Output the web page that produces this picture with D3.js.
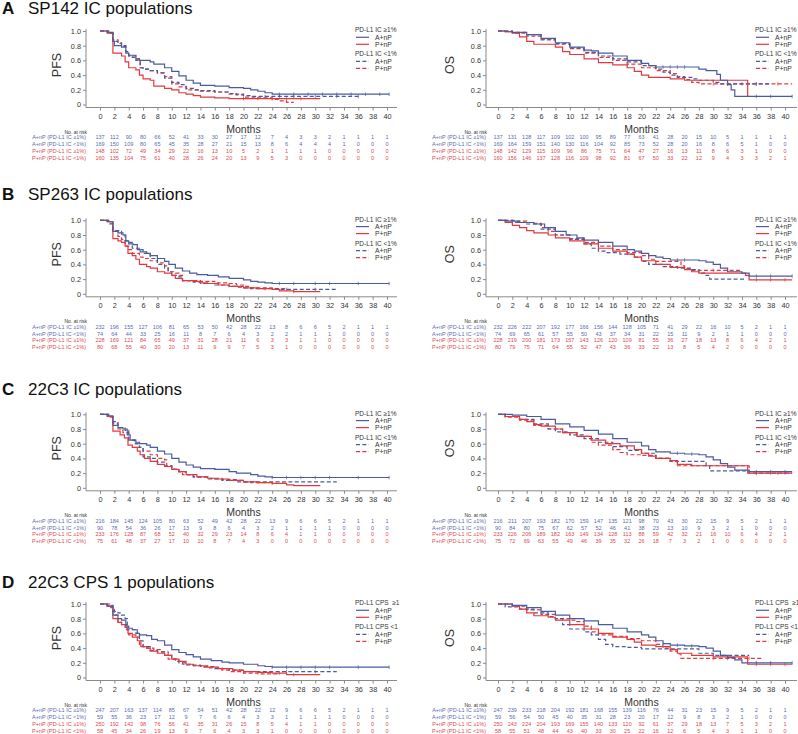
<!DOCTYPE html>
<html><head><meta charset="utf-8">
<script src="https://cdn.jsdelivr.net/npm/d3@7"></script>
<style>
body{margin:0;background:#fff}
svg{display:block}
text{font-family:"Liberation Sans",Arial,Helvetica,sans-serif}
</style>
</head><body>
<svg id="chart" width="798" height="734"></svg>
<script>
// ---------- tick labels / categories ----------
const monthTicks = [0,2,4,6,8,10,12,14,16,18,20,22,24,26,28,30,32,34,36,38,40];
const survTicks = [0,0.2,0.4,0.6,0.8,1.0];
const rowLabels = ['A+nP (PD-L1 IC \u22651%)','A+nP (PD-L1 IC <1%)','P+nP (PD-L1 IC \u22651%)','P+nP (PD-L1 IC <1%)'];
const armNames = ['A+nP','P+nP'];
const panelLetters = ['A','B','C','D'];
const panelTitles = ['SP142 IC populations','SP263 IC populations','22C3 IC populations','22C3 CPS 1 populations'];
const legendHi = ['PD-L1 IC \u22651%','PD-L1 IC \u22651%','PD-L1 IC \u22651%','PD-L1 CPS  \u22651'];
const legendLo = ['PD-L1 IC <1%','PD-L1 IC <1%','PD-L1 IC <1%','PD-L1 CPS <1'];

// ---------- A: SP142 ----------
const aPfsAhi = [[0,1],[1,0.98],[1.8,0.86],[2,0.80],[3,0.78],[3.6,0.70],[4,0.67],[5,0.62],[5.5,0.60],[7,0.58],[7.5,0.55],[9,0.50],[10,0.45],[11,0.39],[12,0.33],[13,0.29],[14,0.26],[16,0.25],[18,0.23],[20,0.22],[21,0.20],[22,0.18],[23,0.16],[24,0.14],[40.3,0.14]];
const aPfsAlo = [[0,1],[1.2,0.97],[1.8,0.86],[2.5,0.84],[3,0.80],[3.6,0.72],[4,0.66],[4.5,0.64],[5,0.60],[5.6,0.50],[6,0.48],[7,0.46],[8,0.43],[9,0.36],[10,0.30],[11,0.27],[12,0.22],[13,0.20],[14,0.19],[16,0.17],[18,0.15],[19,0.13],[20,0.12],[21,0.11],[36,0.11]];
const aPfsPhi = [[0,1],[1,0.97],[1.8,0.70],[3,0.66],[3.5,0.58],[4,0.50],[5,0.47],[5.5,0.40],[6,0.35],[7,0.33],[7.5,0.25],[9,0.22],[10,0.20],[11,0.16],[12,0.14],[13,0.12],[14,0.10],[16,0.09],[18,0.08],[30.7,0.08]];
const aPfsPlo = [[0,1],[1.2,0.97],[1.8,0.88],[2.5,0.83],[3,0.79],[3.6,0.72],[4,0.66],[5,0.62],[5.6,0.50],[6,0.48],[7,0.46],[8,0.43],[9,0.38],[10,0.28],[11,0.24],[12,0.20],[14,0.18],[16,0.17],[18,0.14],[20,0.10],[22,0.09],[24,0.07],[25,0.05],[26,0.03],[27,0.03]];
const aOsAhi = [[0,1],[1,0.99],[2,0.98],[4,0.95],[6,0.90],[8,0.84],[10,0.78],[12,0.74],[13,0.73],[14,0.70],[16,0.66],[18,0.60],[20,0.56],[21,0.53],[22,0.51],[27,0.51],[28,0.48],[29,0.46],[30.5,0.41],[31,0.33],[32,0.27],[32.5,0.20],[33,0.11],[41,0.11]];
const aOsAlo = [[0,1],[2,0.98],[4,0.95],[6,0.89],[8,0.83],[10,0.77],[12,0.71],[14,0.66],[16,0.62],[18,0.58],[20,0.53],[22,0.48],[23,0.44],[24,0.40],[25,0.37],[27,0.35],[28,0.33],[30,0.30],[31,0.28],[38,0.28]];
const aOsPhi = [[0,1],[1,0.99],[2,0.97],[3,0.92],[4,0.86],[5,0.82],[7,0.82],[8,0.78],[9,0.72],[10,0.68],[12,0.62],[14,0.57],[16,0.54],[18,0.50],[19,0.45],[20,0.40],[21,0.37],[23,0.37],[24,0.35],[26,0.33],[34.8,0.11],[35,0.11]];
const aOsPlo = [[0,1],[2,0.97],[4,0.93],[6,0.88],[8,0.82],[10,0.76],[12,0.70],[14,0.64],[16,0.60],[18,0.55],[20,0.50],[22,0.46],[24,0.42],[25,0.38],[26,0.34],[27,0.30],[28,0.28],[41,0.28]];
const aPfsRisk = [[137,112,90,80,66,52,41,33,30,27,17,12,7,4,3,3,2,1,1,1,1],[169,150,109,80,65,45,35,28,27,21,15,13,8,6,4,4,4,1,0,0,0],[148,102,72,49,34,29,22,16,13,10,5,2,1,1,1,1,0,0,0,0,0],[160,135,104,75,61,40,28,26,24,20,13,9,5,3,0,0,0,0,0,0,0]];
const aOsRisk = [[137,131,128,117,109,102,100,95,89,77,63,41,28,20,15,10,5,1,1,1,1],[169,164,159,151,140,130,116,104,92,85,73,52,28,20,16,8,6,5,1,0,0],[148,142,129,115,109,96,86,75,71,64,47,27,16,13,11,8,6,3,1,0,0],[160,156,146,137,128,116,109,98,92,81,67,50,33,22,12,9,4,3,3,2,1]];

// ---------- B: SP263 ----------
const bPfsAhi = [[0,1],[1,0.98],[1.8,0.85],[2.5,0.83],[3.2,0.80],[3.6,0.72],[4,0.68],[4.6,0.67],[5.2,0.60],[5.6,0.57],[6.5,0.55],[7,0.52],[8,0.48],[9,0.44],[9.6,0.40],[10.5,0.35],[11.5,0.31],[12.5,0.28],[13.5,0.26],[15,0.25],[16.5,0.23],[18,0.21],[20,0.19],[21,0.17],[22,0.16],[23,0.15],[24,0.14],[40.3,0.14]];
const bPfsAlo = [[0,1],[1.2,0.95],[1.8,0.86],[3,0.80],[3.5,0.72],[4,0.70],[4.5,0.62],[5.5,0.60],[6,0.55],[7,0.48],[8,0.40],[9,0.35],[9.5,0.30],[10,0.25],[11,0.23],[11.5,0.18],[13,0.16],[14,0.14],[16,0.12],[18,0.10],[19,0.09],[20,0.08],[21,0.07],[25,0.06],[33,0.06]];
const bPfsPhi = [[0,1],[1,0.98],[1.8,0.75],[2.5,0.72],[3,0.70],[3.5,0.65],[3.9,0.55],[4.5,0.52],[5,0.47],[5.5,0.40],[6.5,0.37],[7,0.35],[8,0.30],[9,0.28],[10,0.25],[10.5,0.21],[11.5,0.18],[13,0.17],[14,0.15],[15,0.14],[16.5,0.12],[18,0.10],[20,0.08],[22,0.07],[24,0.06],[25,0.04],[27,0.03],[30.7,0.03]];
const bPfsPlo = [[0,1],[1.2,0.96],[1.8,0.86],[2.5,0.78],[3,0.74],[3.5,0.65],[4,0.60],[4.5,0.55],[5.5,0.50],[6,0.48],[7,0.45],[8,0.42],[9,0.38],[9.5,0.30],[10.5,0.28],[11,0.25],[11.5,0.18],[14,0.17],[16,0.15],[18,0.14],[19,0.12],[20,0.10],[21,0.08],[24,0.07],[26,0.07]];
const bOsAhi = [[0,1],[1,0.99],[3,0.97],[5,0.95],[6.5,0.90],[8,0.85],[9.5,0.80],[11,0.76],[12,0.73],[14,0.70],[16,0.65],[18,0.60],[19,0.58],[20,0.55],[21,0.52],[22,0.50],[23,0.48],[24,0.46],[27,0.46],[28,0.45],[29,0.43],[30,0.40],[31,0.35],[32,0.30],[34,0.28],[35,0.24],[41,0.24]];
const bOsAlo = [[0,1],[2,0.97],[4,0.95],[6,0.88],[8,0.80],[10,0.74],[12,0.68],[13,0.62],[14,0.58],[15,0.56],[17,0.54],[19,0.50],[20,0.44],[21,0.40],[23,0.37],[25,0.35],[27,0.33],[28,0.28],[29,0.25],[29.5,0.20],[34.5,0.20]];
const bOsPhi = [[0,1],[1,0.97],[2,0.93],[3,0.90],[4,0.86],[5,0.83],[7,0.80],[8,0.76],[10,0.72],[12,0.68],[14,0.62],[16,0.58],[18,0.54],[19,0.50],[20,0.45],[22,0.40],[24,0.36],[26,0.33],[27,0.30],[28,0.28],[34.5,0.25],[35,0.19],[41,0.19]];
const bOsPlo = [[0,1],[2.5,0.99],[4,0.97],[5,0.96],[6,0.90],[7,0.85],[8,0.80],[10,0.75],[12,0.70],[14,0.65],[16,0.60],[18,0.56],[20,0.52],[21,0.47],[22,0.44],[25,0.44],[25.5,0.38],[26,0.34],[27,0.32],[34,0.32]];
const bPfsRisk = [[232,196,155,127,106,81,65,53,50,42,28,22,13,8,6,6,5,2,1,1,1],[74,64,44,33,25,16,11,8,7,6,4,3,2,2,1,1,1,0,0,0,0],[228,169,121,84,65,49,37,31,28,21,11,6,3,3,1,1,0,0,0,0,0],[80,68,55,40,30,20,13,11,9,9,7,5,3,1,0,0,0,0,0,0,0]];
const bOsRisk = [[232,226,222,207,192,177,166,156,144,128,105,71,41,29,22,16,10,5,2,1,1],[74,69,65,61,57,55,50,43,37,34,31,22,15,11,9,2,1,1,0,0,0],[228,219,200,181,173,157,143,126,120,109,81,55,36,27,18,13,8,6,4,2,1],[80,79,75,71,64,55,52,47,43,36,33,22,13,8,5,4,2,0,0,0,0]];

// ---------- C: 22C3 IC ----------
const cPfsAhi = [[0,1],[1,0.98],[1.8,0.85],[2.5,0.82],[3.2,0.80],[3.8,0.72],[4.2,0.65],[5,0.62],[5.5,0.60],[6.5,0.58],[7,0.55],[8,0.50],[9,0.46],[10,0.40],[11,0.35],[12,0.31],[13,0.28],[14,0.26],[16,0.25],[18,0.22],[19,0.20],[21,0.18],[22,0.16],[23,0.15],[24,0.14],[40.3,0.14]];
const cPfsAlo = [[0,1],[1.2,0.97],[1.8,0.90],[2.5,0.82],[3.5,0.78],[4,0.65],[5,0.60],[5.5,0.55],[6,0.42],[7,0.40],[8,0.35],[9,0.30],[10,0.25],[11,0.22],[12,0.18],[13,0.15],[15,0.12],[17,0.10],[19,0.08],[33,0.08]];
const cPfsPhi = [[0,1],[1,0.97],[1.8,0.77],[2.8,0.72],[3.4,0.68],[3.9,0.58],[4.5,0.55],[5.2,0.50],[5.6,0.45],[6.2,0.40],[7,0.36],[8,0.32],[9,0.29],[10,0.25],[11,0.22],[12,0.18],[13.5,0.15],[15,0.13],[16,0.12],[18,0.10],[20,0.08],[22,0.07],[24,0.06],[26,0.04],[27,0.03],[30.7,0.03]];
const cPfsPlo = [[0,1],[1.2,0.96],[1.8,0.88],[2.5,0.80],[3.2,0.75],[4,0.65],[4.8,0.60],[5.3,0.55],[6,0.50],[7,0.45],[8,0.40],[9,0.38],[9.3,0.30],[10,0.25],[11,0.22],[11.5,0.18],[13,0.15],[15,0.13],[17,0.11],[19,0.10],[20,0.08],[21,0.07],[23.5,0.07]];
const cOsAhi = [[0,1],[2,0.99],[4,0.97],[6,0.93],[8,0.87],[10,0.83],[12,0.78],[14,0.73],[16,0.67],[18,0.62],[20,0.57],[21,0.52],[22,0.49],[24,0.47],[26,0.46],[28,0.45],[29,0.42],[30,0.38],[31,0.33],[32,0.28],[33,0.24],[35,0.22],[41,0.22]];
const cOsAlo = [[0,1],[1,0.97],[3,0.93],[5,0.87],[7,0.80],[8,0.76],[10,0.72],[12,0.67],[14,0.62],[16,0.56],[18,0.51],[20,0.47],[22,0.40],[24,0.36],[29,0.30],[29.5,0.23],[35,0.23]];
const cOsPhi = [[0,1],[1,0.97],[3,0.93],[4,0.90],[5,0.86],[6,0.84],[8,0.80],[9,0.75],[11,0.70],[13,0.65],[15,0.60],[17,0.57],[19,0.52],[20,0.47],[21,0.43],[22,0.40],[24,0.37],[25,0.32],[27,0.30],[34.8,0.20],[41,0.20]];
const cOsPlo = [[0,1],[1,0.96],[3,0.92],[5,0.85],[7,0.80],[9,0.75],[11,0.70],[13,0.62],[14,0.58],[16,0.52],[17,0.48],[18,0.45],[20,0.44],[22,0.40],[24,0.36],[25,0.30],[35,0.20],[41,0.20]];
const cPfsRisk = [[216,184,145,124,105,80,63,52,49,42,28,22,13,9,6,6,5,2,1,1,1],[90,78,54,36,26,17,13,9,8,6,4,3,2,1,1,1,1,0,0,0,0],[233,176,128,87,68,52,40,32,29,23,14,8,6,4,1,1,0,0,0,0,0],[75,61,48,37,27,17,10,10,8,7,4,3,0,0,0,0,0,0,0,0,0]];
const cOsRisk = [[216,211,207,193,182,170,159,147,135,121,98,70,43,30,22,15,9,5,2,1,1],[90,84,80,75,67,62,57,52,46,41,38,23,13,10,9,3,2,1,0,0,0],[233,226,206,189,182,163,149,134,128,113,88,59,42,32,21,16,10,6,4,2,1],[75,72,69,63,55,49,46,39,35,32,26,18,7,3,2,1,0,0,0,0,0]];

// ---------- D: 22C3 CPS ----------
const dPfsAhi = [[0,1],[1,0.97],[1.8,0.85],[2.5,0.80],[3,0.78],[3.6,0.70],[4,0.67],[4.5,0.65],[5.2,0.60],[5.5,0.58],[6.5,0.57],[7.2,0.52],[8,0.50],[9,0.44],[10,0.38],[11,0.34],[12,0.31],[13,0.28],[14,0.25],[15.5,0.23],[17,0.21],[18,0.20],[20,0.18],[22,0.16],[23,0.15],[24,0.14],[40.3,0.14]];
const dPfsAlo = [[0,1],[1,0.98],[1.8,0.90],[2.5,0.88],[3,0.85],[3.5,0.80],[3.8,0.65],[5,0.60],[5.5,0.50],[6,0.42],[7,0.37],[8,0.35],[9,0.30],[10,0.25],[11,0.20],[12,0.17],[14,0.15],[16,0.12],[18,0.10],[20,0.08],[33,0.08]];
const dPfsPhi = [[0,1],[1,0.97],[1.8,0.80],[2.5,0.75],[3,0.72],[3.5,0.68],[3.9,0.60],[4.5,0.55],[5.2,0.50],[5.7,0.42],[6.5,0.40],[7,0.36],[8,0.33],[9,0.30],[10,0.25],[11,0.22],[12,0.18],[13,0.16],[14.5,0.14],[16.5,0.12],[18.5,0.10],[20,0.08],[22,0.07],[24,0.06],[26,0.04],[30.7,0.04]];
const dPfsPlo = [[0,1],[1.5,0.95],[2,0.85],[2.5,0.75],[3,0.72],[3.7,0.65],[4,0.58],[5,0.55],[5.5,0.45],[6,0.42],[6.5,0.40],[7.5,0.38],[8.5,0.35],[9.5,0.25],[10.5,0.22],[11.5,0.18],[13,0.16],[15,0.13],[17,0.10],[18,0.08],[20,0.06],[22,0.05],[25,0.05]];
const dOsAhi = [[0,1],[2,0.98],[4,0.95],[6,0.90],[8,0.85],[10,0.80],[12,0.77],[14,0.72],[16,0.67],[18,0.62],[20,0.58],[21,0.55],[22,0.50],[23,0.46],[24,0.44],[26,0.43],[28,0.42],[29,0.40],[30,0.36],[31,0.30],[32,0.27],[33,0.24],[34,0.20],[41,0.20]];
const dOsAlo = [[0,1],[1,0.96],[3,0.93],[5,0.88],[7,0.83],[8,0.80],[9,0.72],[10,0.66],[12,0.62],[13,0.58],[14,0.52],[15,0.45],[16,0.42],[18,0.41],[20,0.39],[28,0.33],[30,0.30],[35,0.30]];
const dOsPhi = [[0,1],[2,0.97],[3,0.93],[4,0.88],[5,0.84],[7,0.82],[8,0.78],[10,0.72],[12,0.66],[14,0.60],[16,0.55],[18,0.52],[19,0.48],[20,0.44],[22,0.42],[24,0.38],[25,0.33],[27,0.30],[30,0.28],[34.8,0.18],[41,0.18]];
const dOsPlo = [[0,1],[2,0.97],[4,0.92],[6,0.86],[8,0.80],[10,0.78],[11,0.76],[12,0.70],[13,0.62],[14,0.58],[16,0.56],[18,0.53],[20,0.50],[22,0.45],[23,0.40],[24,0.36],[25,0.32],[25.5,0.26],[37,0.26]];
const dPfsRisk = [[247,207,163,137,114,85,67,54,51,42,28,22,12,9,6,6,5,2,1,1,1],[59,55,36,23,17,12,9,7,6,6,4,3,3,1,1,1,1,0,0,0,0],[250,192,142,98,76,56,41,35,31,26,15,8,5,4,1,1,0,0,0,0,0],[58,45,34,26,19,13,9,7,6,4,3,3,1,0,0,0,0,0,0,0,0]];
const dOsRisk = [[247,239,233,218,204,192,181,168,155,139,116,76,44,31,23,15,9,5,2,1,1],[59,56,54,50,45,40,35,31,28,23,20,17,12,9,8,3,2,1,0,0,0],[250,243,224,204,193,169,155,140,133,120,92,61,37,29,18,13,7,5,3,2,1],[58,55,51,48,44,43,40,33,30,25,22,16,12,6,5,4,3,1,1,0,0]];

// censor marks (months) on the long tails
const aPfsCens = [[25,27,29,31,33,35,37,39,40.3],[23,25,27,30,33,36],[20,22,24,26,28],[]];
const aOsCens = [[23,24,25,26,36,38,41],[32,34,36],[],[30,32,36,39]];
const bPfsCens = [[25,27,30,32,36,40.3],[26,30],[23,27],[]];
const bOsCens = [[25,26,36,38,41],[],[36,38,40],[30,32]];
const cPfsCens = [[24,26,28,30,32,36,40.3],[],[24],[]];
const cOsCens = [[25,27,36,38,40],[],[36,38,40],[36,39]];
const dPfsCens = [[24,26,28,30,32,36,40.3],[26,30],[25,27],[]];
const dOsCens = [[25,27,36,38,41],[],[36,38,40],[30,32,35]];

// ---------- styling ----------
const BLUE = '#4a5c9e', RED = '#e2383e';
const BLUE_T = '#5a6bb0', RED_T = '#dc4a4f';
const lineColors = [BLUE, BLUE, RED, RED];
const lineDash = [null, '4,2.4', null, '4,2.4'];
const rowColors = [BLUE_T, BLUE_T, RED_T, RED_T];

const panelTops = [31, 220.3, 414.3, 604];
const titleBase = [14.2, 200, 395, 588];

const panels = [
  {pfs:[aPfsAhi,aPfsAlo,aPfsPhi,aPfsPlo], os:[aOsAhi,aOsAlo,aOsPhi,aOsPlo], pfsRisk:aPfsRisk, osRisk:aOsRisk, pfsCens:aPfsCens, osCens:aOsCens},
  {pfs:[bPfsAhi,bPfsAlo,bPfsPhi,bPfsPlo], os:[bOsAhi,bOsAlo,bOsPhi,bOsPlo], pfsRisk:bPfsRisk, osRisk:bOsRisk, pfsCens:bPfsCens, osCens:bOsCens},
  {pfs:[cPfsAhi,cPfsAlo,cPfsPhi,cPfsPlo], os:[cOsAhi,cOsAlo,cOsPhi,cOsPlo], pfsRisk:cPfsRisk, osRisk:cOsRisk, pfsCens:cPfsCens, osCens:cOsCens},
  {pfs:[dPfsAhi,dPfsAlo,dPfsPhi,dPfsPlo], os:[dOsAhi,dOsAlo,dOsPhi,dOsPlo], pfsRisk:dPfsRisk, osRisk:dOsRisk, pfsCens:dPfsCens, osCens:dOsCens}
];

const svg = d3.select('#chart');

function stepValue(curve, t){
  let v = curve[0][1];
  for (const p of curve){ if (p[0] <= t) v = p[1]; }
  return v;
}

function drawPlot(side, top, curves, risk, cens, ylab, legHi, legLo){
  const ox = side === 0 ? 86 : 486;
  const x0 = side === 0 ? 100 : 498;
  const x40 = side === 0 ? 387 : 785;
  const ylabX = side === 0 ? ox - 29 : ox - 36;
  const x = d3.scaleLinear().domain([0,40]).range([x0, x40]);
  const y = d3.scaleLinear().domain([0,1]).range([top + 73.5, top]);
  const axisY = top + 76.5;
  const g = svg.append('g');

  g.append('line').attr('x1', ox).attr('x2', ox + 311).attr('y1', axisY).attr('y2', axisY)
    .attr('stroke', '#8a8a8a').attr('stroke-width', 1);
  g.append('line').attr('x1', ox).attr('x2', ox).attr('y1', top - 2).attr('y2', axisY)
    .attr('stroke', '#8a8a8a').attr('stroke-width', 1);

  const xa = g.append('g').attr('transform', `translate(0,${axisY})`)
    .call(d3.axisBottom(x).tickValues(monthTicks).tickSize(3).tickPadding(3.5).tickFormat(d3.format('d')));
  xa.select('.domain').remove();
  xa.selectAll('line').attr('stroke', '#8a8a8a');
  xa.selectAll('text').attr('font-size', 7.3).attr('fill', '#333').style('font-family', '"Liberation Sans",Arial,sans-serif');

  const ya = g.append('g').attr('transform', `translate(${ox},0)`)
    .call(d3.axisLeft(y).tickValues(survTicks).tickSize(3).tickPadding(2)
      .tickFormat(d => d === 0 ? '0' : d.toFixed(1)));
  ya.select('.domain').remove();
  ya.selectAll('line').attr('stroke', '#8a8a8a');
  ya.selectAll('text').attr('font-size', 7.3).attr('fill', '#333').style('font-family', '"Liberation Sans",Arial,sans-serif');

  g.append('text').attr('x', (x0 + x40) / 2).attr('y', axisY + 25).attr('text-anchor', 'middle')
    .attr('font-size', 10.5).attr('fill', '#333').text('Months');
  g.append('text').attr('transform', `translate(${ylabX},${top + 34}) rotate(-90)`)
    .attr('text-anchor', 'middle').attr('dy', '0.35em').attr('font-size', 12.5).attr('fill', '#333').text(ylab);

  const line = d3.line().x(d => x(d[0])).y(d => y(d[1])).curve(d3.curveStepAfter);
  const order = [3, 1, 2, 0];
  order.forEach(i => {
    g.append('path').datum(curves[i]).attr('d', line).attr('fill', 'none')
      .attr('stroke', lineColors[i]).attr('stroke-width', 1.2)
      .attr('stroke-dasharray', lineDash[i]);
    g.selectAll(null).data(cens[i]).enter().append('line')
      .attr('x1', d => x(d)).attr('x2', d => x(d))
      .attr('y1', d => y(stepValue(curves[i], d)) - 1.8)
      .attr('y2', d => y(stepValue(curves[i], d)) + 1.8)
      .attr('stroke', lineColors[i]).attr('stroke-width', 0.7);
  });

  // legend
  const lx = ox + 269;
  const legRows = [
    {t: legHi, dy: -1, head: true},
    {t: armNames[0], dy: 6.3, i: 0},
    {t: armNames[1], dy: 13.3, i: 2},
    {t: legLo, dy: 23, head: true},
    {t: armNames[0], dy: 30.3, i: 1},
    {t: armNames[1], dy: 37.3, i: 3}
  ];
  legRows.forEach(r => {
    if (r.head){
      g.append('text').attr('x', lx).attr('y', top + r.dy).attr('dy', '0.35em')
        .attr('font-size', 6.5).attr('fill', '#333').style('white-space', 'pre').text(r.t);
    } else {
      g.append('line').attr('x1', lx + 1).attr('x2', lx + 14).attr('y1', top + r.dy).attr('y2', top + r.dy)
        .attr('stroke', lineColors[r.i]).attr('stroke-width', 1.2).attr('stroke-dasharray', lineDash[r.i]);
      g.append('text').attr('x', lx + 20).attr('y', top + r.dy).attr('dy', '0.35em')
        .attr('font-size', 6.8).attr('fill', '#333').text(r.t);
    }
  });

  // risk table
  g.append('text').attr('x', ox + 1).attr('y', top + 101).attr('dy', '0.35em').attr('text-anchor', 'end')
    .attr('font-size', 5).attr('fill', '#333').text('No. at risk');
  risk.forEach((row, ri) => {
    const ry = top + 106.5 + ri * 6.8;
    g.append('text').attr('x', ox).attr('y', ry).attr('dy', '0.35em').attr('text-anchor', 'end')
      .attr('font-size', 5.5).attr('fill', rowColors[ri]).text(rowLabels[ri]);
    g.selectAll(null).data(row).enter().append('text')
      .attr('x', (d, k) => x(monthTicks[k])).attr('y', ry).attr('dy', '0.35em')
      .attr('text-anchor', 'middle').attr('font-size', 5.5).attr('fill', rowColors[ri]).text(d => d);
  });
}

panels.forEach((p, k) => {
  const top = panelTops[k];
  svg.append('text').attr('x', 2).attr('y', titleBase[k]).attr('font-size', 17).attr('font-weight', 'bold')
    .attr('fill', '#111').text(panelLetters[k]);
  svg.append('text').attr('x', 28).attr('y', titleBase[k]).attr('font-size', 17)
    .attr('fill', '#111').text(panelTitles[k]);
  drawPlot(0, top, p.pfs, p.pfsRisk, p.pfsCens, 'PFS', legendHi[k], legendLo[k]);
  drawPlot(1, top, p.os, p.osRisk, p.osCens, 'OS', legendHi[k], legendLo[k]);
});
</script>
</body></html>
